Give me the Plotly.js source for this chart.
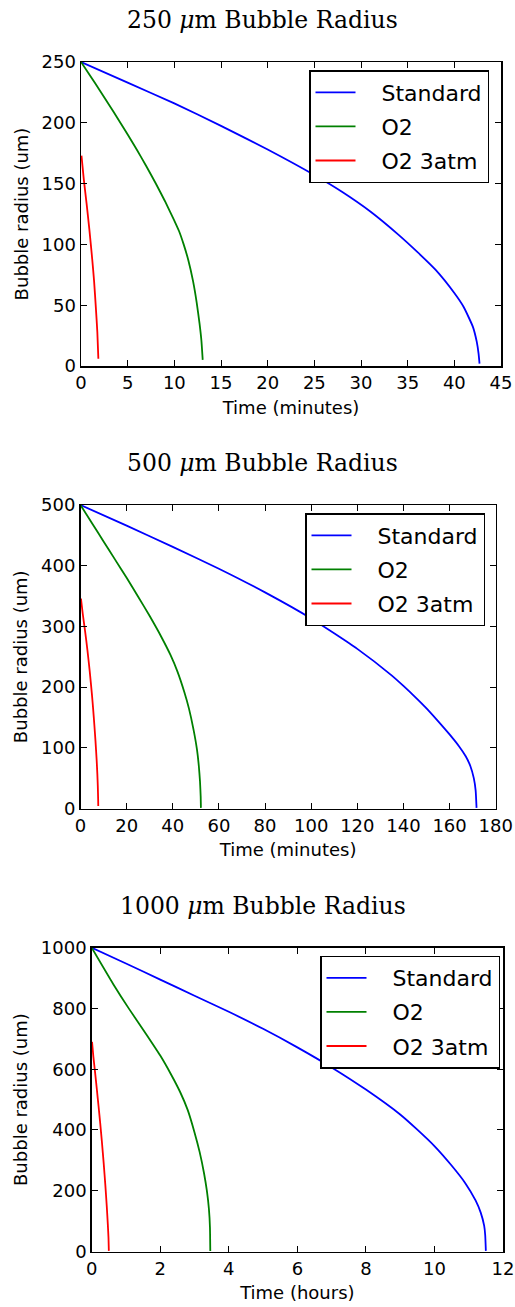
<!DOCTYPE html>
<html>
<head>
<meta charset="utf-8">
<script src="https://cdn.plot.ly/plotly-3.0.1.min.js"></script>
<style>html,body{margin:0;padding:0;background:#fff;}#chart{width:515px;height:1307px;}</style>
</head>
<body>
<div id="chart"></div>
<script>
// ---- Data ----
const seriesNames = ["Standard", "O2", "O2 3atm"];
const seriesColors = ["#0000ff", "#008000", "#ff0000"];

// 250 um bubble (time in minutes)
const std250_t = [0, 5, 10, 15, 20, 25, 28, 31, 34, 36, 38, 40, 41, 42, 42.4, 42.6, 42.7];
const std250_r = [250, 233, 216, 197.5, 178, 157, 143, 127, 108, 94, 79, 60, 48.5, 32, 20, 10, 2];
const o2_250_t = [0, 1, 2, 3, 4, 5, 6, 7, 8, 9, 10, 10.5, 11, 11.5, 12, 12.4, 12.7, 12.9, 13.04];
const o2_250_r = [250, 238.5, 226.8, 214.9, 202.8, 190.4, 177.6, 164.3, 150.3, 135.5, 119.5, 111, 100, 87, 70, 52, 35, 21, 5];
const o23_250_t = [0.05, 0.3, 0.6, 0.9, 1.2, 1.4, 1.6, 1.75, 1.86];
const o23_250_r = [173, 153.5, 133.5, 112, 88, 70, 47, 28, 6];

// 500 um bubble (time in minutes)
const std500_t = [0, 20, 40, 60, 80, 100, 120, 135, 140, 145, 150, 155, 160, 164, 167, 169, 170.5, 171.3, 171.7];
const std500_r = [500, 466, 431, 395, 356, 313, 263, 219, 202, 184, 165, 144, 122, 103, 86, 70, 50, 30, 1];
const o2_500_t = [0, 5, 10, 15, 20, 25, 30, 35, 39, 42, 45, 47, 49, 50.5, 51.3, 51.8, 52.1, 52.2];
const o2_500_r = [500, 470, 440, 410, 380, 349, 317, 283, 253, 226, 192, 165, 130, 97, 70, 45, 20, 1];
const o23_500_t = [0.2, 1, 2, 3, 4, 5, 5.5, 6, 6.5, 7, 7.3, 7.5, 7.65, 7.7];
const o23_500_r = [346, 320, 292, 261, 226, 186, 163, 138, 111, 80, 57, 37, 15, 4];

// 1000 um bubble (time in hours)
const std1000_t = [0, 1, 2, 3, 4, 5, 6, 7, 8, 9, 9.5, 10, 10.5, 10.9, 11.2, 11.35, 11.45, 11.48, 11.5];
const std1000_r = [1000, 948, 895, 842, 789, 733, 672, 606, 533, 451, 401, 347, 283, 225, 168, 128, 85, 55, 2];
const o2_1000_t = [0, 0.63, 1.1, 1.61, 2, 2.3, 2.58, 2.8, 3.0, 3.15, 3.28, 3.36, 3.42, 3.45, 3.46];
const o2_1000_r = [1000, 880, 797, 712, 645, 586, 525, 466, 392, 327, 256, 200, 140, 80, 2];
const o23_1000_t = [0.01, 0.05, 0.1, 0.15, 0.2, 0.25, 0.3, 0.35, 0.4, 0.44, 0.47, 0.49, 0.5];
const o23_1000_r = [690, 640, 588, 534, 478, 420, 358, 290, 215, 148, 90, 45, 2];

const panelTitles = ["250 <i>μ</i>m Bubble Radius", "500 <i>μ</i>m Bubble Radius", "1000 <i>μ</i>m Bubble Radius"];
const xTitles = ["Time (minutes)", "Time (minutes)", "Time (hours)"];
const yTitle = "Bubble radius (um)";
const xRanges = [[0, 45], [0, 180], [0, 12]];
const xDticks = [5, 20, 2];
const yRanges = [[0, 250], [0, 500], [0, 1000]];
const yDticks = [50, 100, 200];

// ---- Layout geometry (pixels) ----
const W = 515, H = 1307;
const boxes = [
  {l: 81, r: 501, t: 62, b: 366, title: 20, leg: {r: 489, t: 70}},
  {l: 80.5, r: 495.7, t: 505, b: 808.5, title: 463, leg: {r: 485, t: 513}},
  {l: 91.7, r: 503, t: 947.7, b: 1251.5, title: 906, leg: {r: 500, t: 955.5}}
];
const px = x => x / W;
const py = y => 1 - y / H;

const panels = [
  [[std250_t, std250_r], [o2_250_t, o2_250_r], [o23_250_t, o23_250_r]],
  [[std500_t, std500_r], [o2_500_t, o2_500_r], [o23_500_t, o23_500_r]],
  [[std1000_t, std1000_r], [o2_1000_t, o2_1000_r], [o23_1000_t, o23_1000_r]]
];

const pad = "\u00a0\u00a0\u00a0";
const traces = [];
panels.forEach((p, i) => {
  const sfx = i === 0 ? "" : String(i + 1);
  p.forEach((s, j) => {
    traces.push({
      x: s[0], y: s[1], type: "scatter", mode: "lines",
      name: pad + seriesNames[j],
      line: {color: seriesColors[j], width: 1.8, shape: "spline", smoothing: 0.5},
      xaxis: "x" + sfx, yaxis: "y" + sfx,
      legend: "legend" + sfx,
      legendgroup: "g" + i + "_" + j,
      hoverinfo: "skip"
    });
  });
});

const tickFont = {family: "DejaVu Sans, sans-serif", size: 18, color: "black"};
const layout = {
  width: W, height: H,
  margin: {l: 0, r: 0, t: 0, b: 0},
  paper_bgcolor: "white", plot_bgcolor: "white",
  showlegend: true,
  font: {family: "DejaVu Sans, sans-serif", color: "black"},
  annotations: []
};

boxes.forEach((b, i) => {
  const sfx = i === 0 ? "" : String(i + 1);
  const common = {
    ticks: "inside", ticklen: 6, tickwidth: 1, tickcolor: "black",
    mirror: "allticks", showline: true, linecolor: "black", linewidth: 1.5,
    showgrid: false, zeroline: false, tickfont: tickFont, tick0: 0
  };
  layout["xaxis" + sfx] = Object.assign({}, common, {
    domain: [px(b.l), px(b.r)], range: xRanges[i], dtick: xDticks[i],
    anchor: "y" + sfx,
    title: {text: xTitles[i], font: tickFont, standoff: 9}
  });
  layout["yaxis" + sfx] = Object.assign({}, common, {
    domain: [py(b.b), py(b.t)], range: yRanges[i], dtick: yDticks[i],
    anchor: "x" + sfx,
    title: {text: yTitle, font: tickFont, standoff: 8}
  });
  layout["legend" + sfx] = {
    x: px(b.leg.r), xanchor: "right", y: py(b.leg.t), yanchor: "top",
    bordercolor: "black", borderwidth: 1.5, bgcolor: "white",
    font: {family: "DejaVu Sans, sans-serif", size: 22, color: "black"},
    traceorder: "grouped", tracegroupgap: 2.5, itemwidth: 40
  };
  layout.annotations.push({
    text: panelTitles[i], xref: "paper", yref: "paper",
    x: 262.5 / W, y: py(b.title), xanchor: "center", yanchor: "middle",
    showarrow: false,
    font: {family: "DejaVu Serif, Liberation Serif, serif", size: 23.5, color: "black"}
  });
});

Plotly.newPlot("chart", traces, layout, {staticPlot: true, displayModeBar: false});
</script>
</body>
</html>
